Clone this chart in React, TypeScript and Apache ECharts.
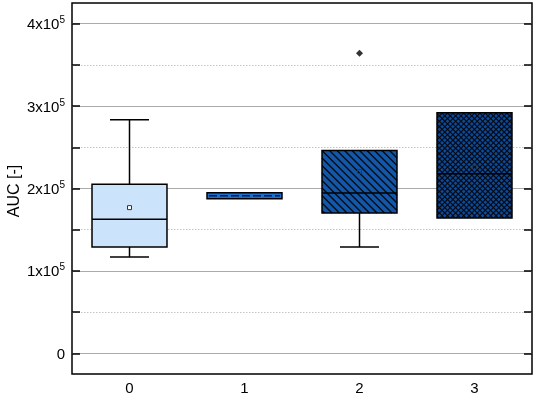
import React, { useEffect, useRef } from "react";
import * as echarts from "echarts";

const categories = ["0", "1", "2", "3"];
const whiskerLow = [117000, 187700, 129000, 164300];
const q1Values = [129000, 187700, 170300, 164300];
const medianValues = [162600, 191300, 194400, 217900];
const q3Values = [205300, 194900, 246100, 291800];
const whiskerHigh = [283300, 194900, 246100, 291800];
const meanValues = [176800, 191300, 220700, 225900];
const outlierPoints = [[2, 363900]];
const majorTicks = [0, 100000, 200000, 300000, 400000];
const minorTicks = [50000, 150000, 250000, 350000];
const yAxisTitle = "AUC [-]";

const boxFills = ["#cce4fb", "#1d6fd2", "#1358a8", "#0d4a98"];
const boxPatterns = ["none", "dash", "diag", "cross"];
const meanFills = ["#ffffff", "none", "none", "none"];

const FONT = 'Arial, "Liberation Sans", sans-serif';

export default function App() {
  const ref = useRef<HTMLDivElement>(null);

  useEffect(() => {
    if (!ref.current) return;
    const chart = echarts.init(ref.current, null, { renderer: "svg" });

    const boxData = categories.map((_, i) => [
      i,
      whiskerLow[i],
      q1Values[i],
      medianValues[i],
      q3Values[i],
      whiskerHigh[i],
      meanValues[i],
    ]);

    const renderItem = (params: any, api: any) => {
      const i = api.value(0);
      const xc = api.coord([i, 0])[0];
      const bw = api.size([1, 0])[0];
      const hw = bw * 0.326;
      const y = (v: number) => api.coord([i, v])[1];
      const yLo = y(api.value(1));
      const yQ1 = y(api.value(2));
      const yMed = y(api.value(3));
      const yQ3 = y(api.value(4));
      const yHi = y(api.value(5));
      const yMean = y(api.value(6));
      const x0 = xc - hw;
      const x1 = xc + hw;
      const top = yQ3;
      const bottom = yQ1;
      const children: any[] = [];
      const pattern = boxPatterns[i];

      children.push({
        type: "rect",
        shape: { x: x0, y: top, width: x1 - x0, height: bottom - top },
        style: { fill: boxFills[i], stroke: "none" },
      });

      if (pattern === "diag" || pattern === "cross") {
        const s = pattern === "diag" ? 7.5 : 5.4;
        const hatchStroke = {
          stroke: "#050a14",
          lineWidth: pattern === "diag" ? 1.4 : 1.15,
        };
        // "\" lines: y = x + c
        for (let c = top - x1; c <= bottom - x0; c += s) {
          const xa = Math.max(x0, top - c);
          const xb = Math.min(x1, bottom - c);
          if (xb > xa) {
            children.push({
              type: "line",
              shape: { x1: xa, y1: xa + c, x2: xb, y2: xb + c },
              style: hatchStroke,
            });
          }
        }
        if (pattern === "cross") {
          // "/" lines: y = -x + c
          for (let c = top + x0; c <= bottom + x1; c += s) {
            const xa = Math.max(x0, c - bottom);
            const xb = Math.min(x1, c - top);
            if (xb > xa) {
              children.push({
                type: "line",
                shape: { x1: xa, y1: c - xa, x2: xb, y2: c - xb },
                style: hatchStroke,
              });
            }
          }
        }
      }

      if (pattern === "dash") {
        children.push({
          type: "line",
          shape: { x1: x0 + 2, y1: yMed, x2: x1 - 2, y2: yMed },
          style: { stroke: "#0a1c3a", lineWidth: 1.5, lineDash: [8, 3] },
        });
      } else {
        children.push({
          type: "line",
          shape: { x1: x0, y1: yMed, x2: x1, y2: yMed },
          style: { stroke: "#000", lineWidth: 1.5 },
        });
      }

      children.push({
        type: "rect",
        shape: { x: x0, y: top, width: x1 - x0, height: bottom - top },
        style: { fill: "none", stroke: "#000", lineWidth: 1.5 },
      });

      const capHw = hw * 0.52;
      if (yHi < yQ3 - 0.5) {
        children.push({
          type: "line",
          shape: { x1: xc, y1: yQ3, x2: xc, y2: yHi },
          style: { stroke: "#000", lineWidth: 1.5 },
        });
        children.push({
          type: "line",
          shape: { x1: xc - capHw, y1: yHi, x2: xc + capHw, y2: yHi },
          style: { stroke: "#000", lineWidth: 1.5 },
        });
      }
      if (yLo > yQ1 + 0.5) {
        children.push({
          type: "line",
          shape: { x1: xc, y1: yQ1, x2: xc, y2: yLo },
          style: { stroke: "#000", lineWidth: 1.5 },
        });
        children.push({
          type: "line",
          shape: { x1: xc - capHw, y1: yLo, x2: xc + capHw, y2: yLo },
          style: { stroke: "#000", lineWidth: 1.5 },
        });
      }

      if (pattern !== "dash") {
        children.push({
          type: "rect",
          shape: { x: xc - 2, y: yMean - 2, width: 4, height: 4 },
          style: {
            fill: meanFills[i],
            stroke: i === 0 ? "#333" : "#23395c",
            lineWidth: 1,
          },
        });
      }

      return { type: "group", children };
    };

    const majorLabel = (v: number) =>
      v === 0 ? "{a|0}" : `{a|${Math.round(v / 100000)}x10}{b|5}`;

    const yTickCommon = {
      show: true,
      inside: true,
      length: 8,
      customValues: [...majorTicks, ...minorTicks],
      lineStyle: { color: "#000", width: 1.5 },
    };

    chart.setOption({
      animation: false,
      textStyle: { fontFamily: FONT },
      grid: {
        left: 72,
        right: 4,
        top: 3,
        bottom: 23,
        outerBoundsMode: "none",
        containLabel: false,
        show: true,
        borderColor: "#000",
        borderWidth: 1.5,
        backgroundColor: "transparent",
      },
      graphic: [
        {
          type: "text",
          x: 13,
          y: 191,
          rotation: Math.PI / 2,
          style: {
            text: yAxisTitle,
            fontSize: 16,
            fontFamily: FONT,
            fill: "#000",
            align: "center",
            verticalAlign: "middle",
          },
        },
      ],
      xAxis: {
        type: "category",
        data: categories,
        boundaryGap: true,
        axisLine: { show: false },
        axisTick: { show: false },
        splitLine: { show: false },
        axisLabel: { fontSize: 15, color: "#000", margin: 6, fontFamily: FONT },
      },
      yAxis: [
        {
          type: "value",
          min: -25000,
          max: 425000,
          position: "left",
          z: 10,
          axisLine: { show: false },
          splitLine: { show: false },
          axisTick: yTickCommon,
          axisLabel: {
            customValues: majorTicks,
            formatter: majorLabel,
            margin: 7,
            color: "#000",
            rich: {
              a: { fontSize: 15, color: "#000", fontFamily: FONT, lineHeight: 18 },
              b: { fontSize: 10, color: "#000", fontFamily: FONT, verticalAlign: "top" },
            },
          },
        },
        {
          type: "value",
          min: -25000,
          max: 425000,
          position: "right",
          z: 10,
          axisLine: { show: false },
          splitLine: { show: false },
          axisTick: yTickCommon,
          axisLabel: { show: false },
        },
      ],
      series: [
        {
          type: "line",
          data: [],
          z: 0,
          silent: true,
          markLine: {
            silent: true,
            z: 0,
            symbol: ["none", "none"],
            label: { show: false },
            data: [
              ...majorTicks.map((v) => ({
                yAxis: v,
                lineStyle: { color: "#ababab", width: 1.2, type: "solid" },
              })),
              ...minorTicks.map((v) => ({
                yAxis: v,
                lineStyle: { color: "#c4c4c4", width: 1, type: [1.5, 1.5] },
              })),
            ],
          },
        },
        {
          type: "custom",
          z: 3,
          renderItem,
          encode: { x: 0, y: [1, 2, 3, 4, 5] },
          data: boxData,
        },
        {
          type: "scatter",
          z: 4,
          symbol: "diamond",
          symbolSize: 7,
          itemStyle: { color: "#000" },
          data: outlierPoints,
        },
      ],
    });

    return () => chart.dispose();
  }, []);

  return <div ref={ref} style={{ width: 536, height: 397, position: "fixed", left: 0, top: 0 }} />;
}
